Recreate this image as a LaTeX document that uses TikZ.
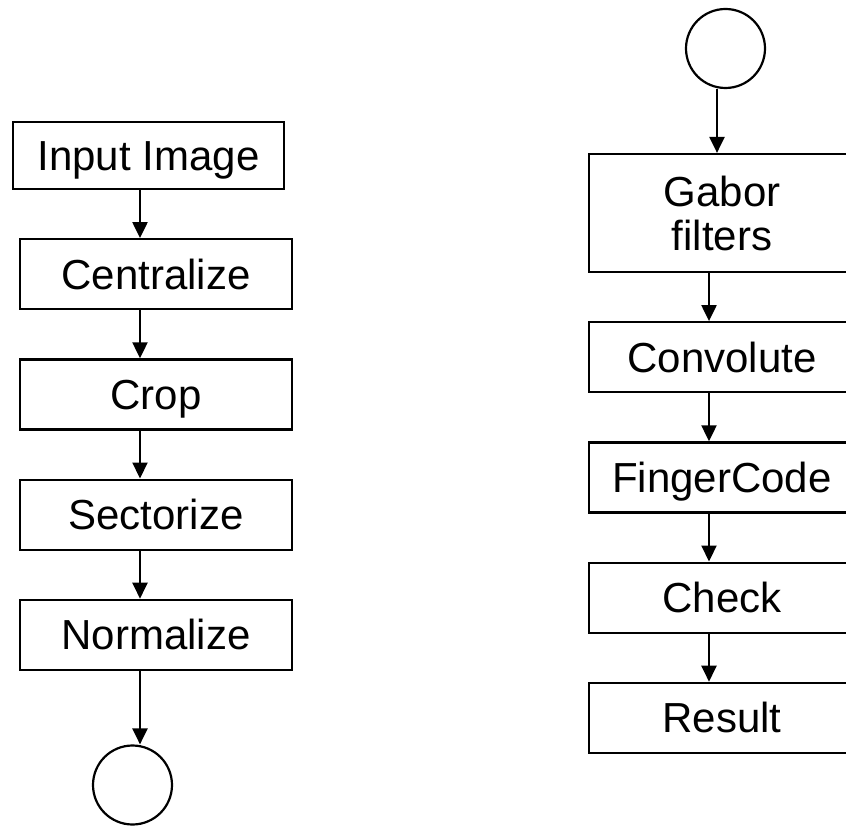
\documentclass[tikz,border=0pt]{standalone}
\usepackage{fontspec}
\setmainfont{Liberation Sans}
\usetikzlibrary{positioning,arrows.meta}

\begin{document}
\begin{tikzpicture}[
    x=1pt, y=-1pt,
    node distance=48pt,
    stage/.style={draw, rectangle, line width=2.2pt, minimum width=272pt, minimum height=70pt, align=center, font=\fontsize{42}{44}\selectfont, text height=30pt, text depth=0pt},
    joint/.style={draw, circle, line width=2.2pt, minimum size=79pt, inner sep=0pt},
    flow/.style={line width=2.2pt, -{Triangle[length=16pt, width=15pt]}}
]
    \useasboundingbox (0,0) rectangle (846,826);
    \clip (0,0) rectangle (846,826);

    \coordinate (colL) at (140,0);
    \coordinate (colR) at (709,0);
    \coordinate (topR) at (717,0);

    \node [stage, minimum width=271pt, minimum height=67pt] (inp) at (148.5,155.5) {Input Image};
    \node [stage, below=of inp, xshift=7.5pt] (cen) {Centralize};
    \node [stage, below=of cen] (crop) {Crop};
    \node [stage, below=of crop] (sec) {Sectorize};
    \node [stage, below=of sec] (norm) {Normalize};
    \node [joint] (endc) at (132.5,785) {};

    \node [joint] (startc) at (725.5,48.5) {};
    \node [stage, minimum width=266pt, minimum height=118pt, text height={}, text depth={}] (gab) at (722,213) {Gabor\\filters};
    \node [stage, minimum width=266pt, below=of gab] (conv) {Convolute};
    \node [stage, minimum width=266pt, below=of conv] (fc) {FingerCode};
    \node [stage, minimum width=266pt, below=of fc] (chk) {Check};
    \node [stage, minimum width=266pt, below=of chk] (res) {Result};

    \draw [flow] (inp.south -| colL) -- (cen.north -| colL);
    \draw [flow] (cen.south -| colL) -- (crop.north -| colL);
    \draw [flow] (crop.south -| colL) -- (sec.north -| colL);
    \draw [flow] (sec.south -| colL) -- (norm.north -| colL);
    \draw [flow] (norm.south -| colL) -- (endc.north -| colL);

    \draw [flow] (startc.south -| topR) -- (gab.north -| topR);
    \draw [flow] (gab.south -| colR) -- (conv.north -| colR);
    \draw [flow] (conv.south -| colR) -- (fc.north -| colR);
    \draw [flow] (fc.south -| colR) -- (chk.north -| colR);
    \draw [flow] (chk.south -| colR) -- (res.north -| colR);
\end{tikzpicture}
\end{document}
